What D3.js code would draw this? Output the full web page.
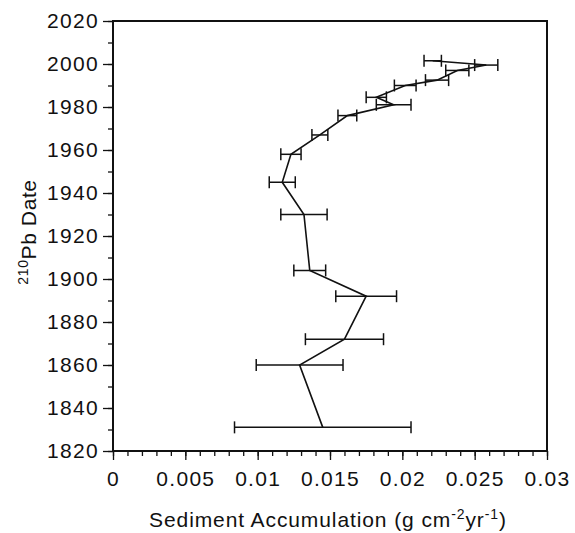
<!DOCTYPE html>
<html>
<head>
<meta charset="utf-8">
<script src="https://cdn.jsdelivr.net/npm/d3@7"></script>
<style>
  body { margin: 0; background: #fff; }
  text { font-family: 'Liberation Sans', Arial, sans-serif; fill: #111; }
</style>
</head>
<body>
<div id="chart"></div>
<script>
// 210Pb dates, accumulation rates (g cm-2 yr-1) and +/- errors
const years = [1831, 1860, 1872, 1892, 1904, 1930, 1945, 1958, 1967, 1976, 1981, 1984.5, 1990, 1992.5, 1997, 1999.5, 2001.5]
const rates = [0.0145, 0.0129, 0.0160, 0.0175, 0.0136, 0.0132, 0.0117, 0.0123, 0.0143, 0.0162, 0.0194, 0.0182, 0.0202, 0.0224, 0.0238, 0.0258, 0.0221]
const errors = [0.0061, 0.0030, 0.0027, 0.0021, 0.0011, 0.0016, 0.0009, 0.0007, 0.00055, 0.00065, 0.0012, 0.0007, 0.00075, 0.0008, 0.0008, 0.0008, 0.0006]

const xTickValues = [0, 0.005, 0.01, 0.015, 0.02, 0.025, 0.03]
const yTickValues = [1820, 1840, 1860, 1880, 1900, 1920, 1940, 1960, 1980, 2000, 2020]

const data = years.map((d, i) => ({ year: d, rate: rates[i], err: errors[i] }))

const margin = { top: 21, left: 113, right: 28, bottom: 82 }
const width = 575 - margin.left - margin.right
const height = 533 - margin.top - margin.bottom

const svg = d3
  .select('#chart')
  .append('svg')
  .attr('width', width + margin.left + margin.right)
  .attr('height', height + margin.top + margin.bottom)
  .append('g')
  .attr('transform', 'translate(' + margin.left + ',' + margin.top + ')')

const x = d3.scaleLinear().domain([0, 0.03]).range([0, width])
const y = d3.scaleLinear().domain([1820, 2020]).range([height, 0])

// minor ticks first
svg
  .append('g')
  .attr('transform', 'translate(0,' + height + ')')
  .call(d3.axisBottom(x).tickValues(d3.range(0, 31).map(i => i / 1000)).tickSize(5).tickFormat(''))
  .call(g => g.select('.domain').remove())

svg
  .append('g')
  .call(d3.axisLeft(y).tickValues(d3.range(1820, 2021, 10)).tickSize(5).tickFormat(''))
  .call(g => g.select('.domain').remove())

// major ticks + labels
svg
  .append('g')
  .attr('class', 'x-axis')
  .attr('transform', 'translate(0,' + height + ')')
  .call(d3.axisBottom(x).tickValues(xTickValues).tickSize(9).tickPadding(11).tickFormat(d => String(d)))
  .call(g => g.select('.domain').remove())

svg
  .append('g')
  .attr('class', 'y-axis')
  .call(d3.axisLeft(y).tickValues(yTickValues).tickSize(10).tickPadding(4).tickFormat(d => String(d)))
  .call(g => g.select('.domain').remove())

svg.selectAll('.tick line').attr('stroke', '#111').attr('stroke-width', 1.3)
svg
  .selectAll('.x-axis text, .y-axis text')
  .style('font-size', '21px')
  .style('letter-spacing', '1.3px')
  .attr('fill', '#111')

// frame
svg
  .append('rect')
  .attr('width', width)
  .attr('height', height)
  .attr('fill', 'none')
  .attr('stroke', '#111')
  .attr('stroke-width', 2)

// error bars
const bars = svg.append('g').attr('stroke', '#111').attr('stroke-width', 1.5)

bars
  .selectAll('.err')
  .data(data)
  .enter()
  .append('line')
  .attr('x1', d => x(d.rate - d.err))
  .attr('x2', d => x(d.rate + d.err))
  .attr('y1', d => y(d.year))
  .attr('y2', d => y(d.year))

bars
  .selectAll('.capl')
  .data(data)
  .enter()
  .append('line')
  .attr('x1', d => x(d.rate - d.err))
  .attr('x2', d => x(d.rate - d.err))
  .attr('y1', d => y(d.year) - 6)
  .attr('y2', d => y(d.year) + 6)

bars
  .selectAll('.capr')
  .data(data)
  .enter()
  .append('line')
  .attr('x1', d => x(d.rate + d.err))
  .attr('x2', d => x(d.rate + d.err))
  .attr('y1', d => y(d.year) - 6)
  .attr('y2', d => y(d.year) + 6)

// profile line
const line = d3
  .line()
  .x(d => x(d.rate))
  .y(d => y(d.year))

svg
  .append('path')
  .datum(data)
  .attr('d', line)
  .attr('fill', 'none')
  .attr('stroke', '#111')
  .attr('stroke-width', 1.6)

// axis titles
const xTitle = svg
  .append('text')
  .attr('x', width / 2 - 2)
  .attr('y', height + 76)
  .attr('text-anchor', 'middle')
  .style('font-size', '21px')
  .style('letter-spacing', '0.9px')
xTitle.append('tspan').text('Sediment Accumulation (g cm')
xTitle.append('tspan').attr('dy', -8).style('font-size', '14px').text('-2')
xTitle.append('tspan').attr('dy', 8).text('yr')
xTitle.append('tspan').attr('dy', -8).style('font-size', '14px').text('-1')
xTitle.append('tspan').attr('dy', 8).text(')')

const yTitle = svg
  .append('text')
  .attr('transform', 'translate(' + (36 - margin.left) + ',' + (height / 2 - 4) + ') rotate(-90)')
  .attr('text-anchor', 'middle')
  .style('font-size', '21px')
  .style('letter-spacing', '0.6px')
yTitle.append('tspan').attr('dy', -8).style('font-size', '14px').text('210')
yTitle.append('tspan').attr('dy', 8).text('Pb Date')
</script>
</body>
</html>
